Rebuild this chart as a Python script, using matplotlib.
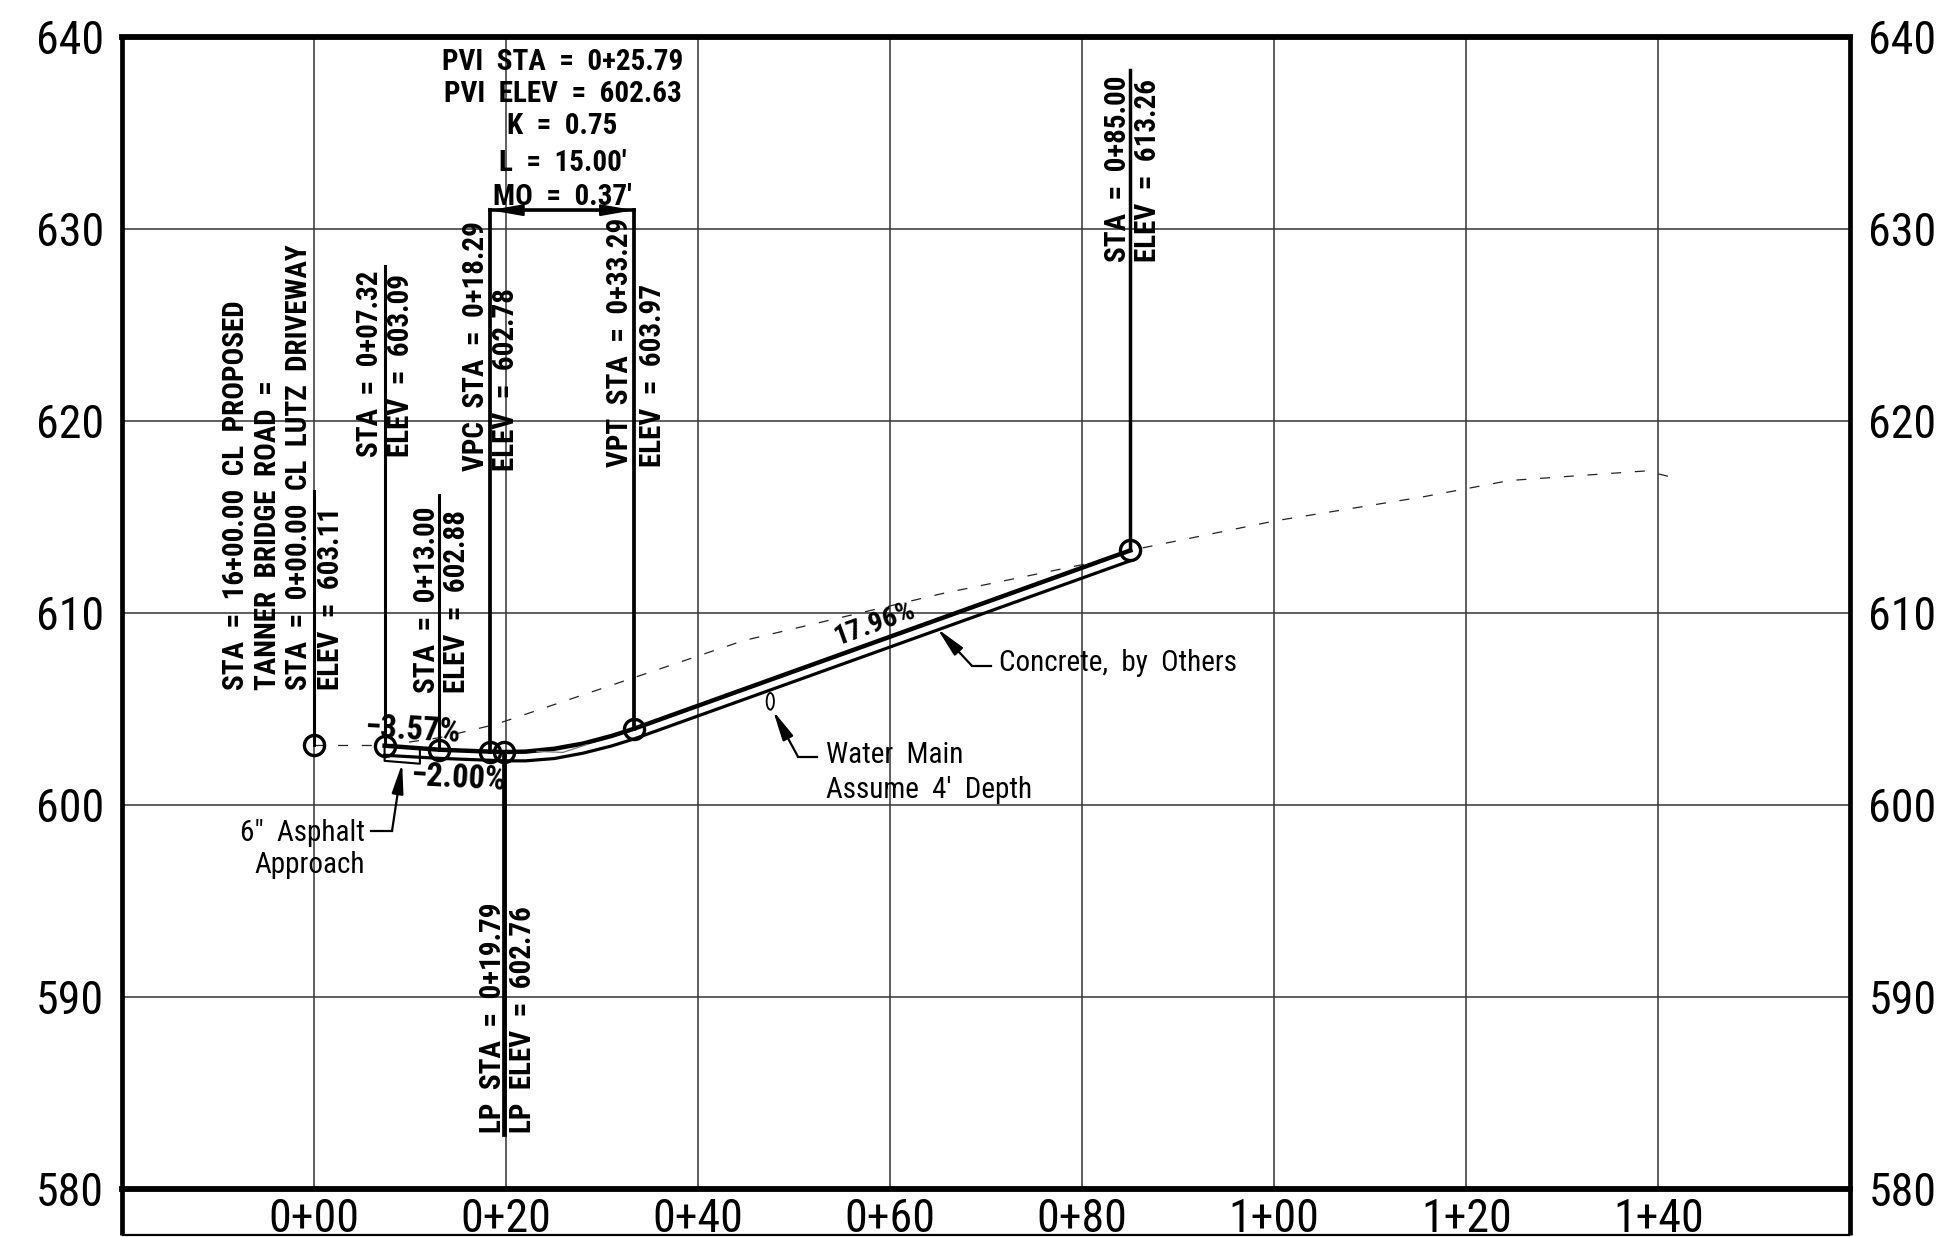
"""
Driveway profile sheet: station vs elevation with design grade and existing ground
"""

import matplotlib
matplotlib.use("Agg")
import matplotlib.pyplot as plt
from matplotlib.patches import Ellipse

plt.rcParams['font.family'] = ['Roboto Condensed', 'Liberation Sans', 'DejaVu Sans']

# Axes ticks
x_ticks = [0, 20, 40, 60, 80, 100, 120, 140]
x_tick_labels = ['0+00', '0+20', '0+40', '0+60', '0+80', '1+00', '1+20', '1+40']
y_ticks = [580, 590, 600, 610, 620, 630, 640]

# Profile points (station, elevation)
pt_sta = [0, 7.32, 13.00, 18.29, 19.79, 33.29, 85.00]
pt_elev = [603.11, 603.09, 602.88, 602.78, 602.76, 603.97, 613.26]

# Top of concrete / bottom of concrete
top_sta = [7.32, 13.00, 18.29, 19.79, 22, 25, 28, 31, 33.29, 85.00]
top_elev = [603.09, 602.88, 602.78, 602.76, 602.78, 602.93, 603.2, 603.6, 603.97, 613.26]
bot_sta = [7.32, 13.00, 18.29, 19.79, 22, 25, 28, 31, 33.29, 85.00]
bot_elev = [602.59, 602.43, 602.33, 602.3, 602.3, 602.42, 602.7, 603.08, 603.44, 612.72]

# Existing ground
eg_sta = [0, 7.32, 13, 18.9, 33.1, 44.7, 54.3, 65.3, 80.8, 85, 100.1, 115.5, 124.5, 138.7, 141.2]
eg_elev = [603.1, 603.1, 603.5, 604.2, 606.6, 608.56, 609.7, 611.0, 612.6, 613.26, 614.8, 616.05, 616.9, 617.4, 617.1]

# Asphalt outline and the small sliver under the curve
asphalt_sta = [7.32, 7.32, 11.0, 11.0]
asphalt_elev = [603.09, 602.3, 602.15, 602.85]
sliver_sta = [23.2, 25.9, 28.4]
sliver_elev = [602.79, 602.74, 603.15]

# Leaders running up/down from the points: (station, from, to)
leaders = [
    (0, 603.11, 616.35),
    (7.32, 603.09, 628.08),
    (13.00, 602.88, 616.16),
    (18.29, 602.78, 630.98),
    (33.29, 603.97, 630.98),
    (85.00, 613.26, 638.26),
    (19.79, 602.76, 582.85),
]

# Rotated station notes: (x, bottom y, text)
vertical_notes = [
    (-8.16, 606.0, 'STA  =  16+00.00  CL  PROPOSED'),
    (-4.8, 606.0, 'TANNER  BRIDGE  ROAD  ='),
    (-1.6, 606.0, 'STA  =  0+00.00  CL  LUTZ  DRIVEWAY'),
    (1.7, 606.0, 'ELEV  =  603.11'),
    (5.8, 618.1, 'STA  =  0+07.32'),
    (9.0, 618.1, 'ELEV  =  603.09'),
    (11.7, 605.85, 'STA  =  0+13.00'),
    (14.9, 605.85, 'ELEV  =  602.88'),
    (16.8, 617.4, 'VPC  STA  =  0+18.29'),
    (20.0, 617.4, 'ELEV  =  602.78'),
    (31.8, 617.6, 'VPT  STA  =  0+33.29'),
    (35.3, 617.6, 'ELEV  =  603.97'),
    (83.7, 628.27, 'STA  =  0+85.00'),
    (86.8, 628.27, 'ELEV  =  613.26'),
    (18.6, 582.9, 'LP  STA  =  0+19.79'),
    (21.7, 582.9, 'LP  ELEV  =  602.76'),
]

# Vertical curve data block
pvi_lines = ['PVI  STA  =  0+25.79', 'PVI  ELEV  =  602.63', 'K  =  0.75', "L  =  15.00'", "MO  =  0.37'"]
pvi_y = [638.7, 637.04, 635.36, 633.45, 631.65]

# Grade labels: (x, y, text, angle)
grades = [
    (10.3, 603.88, '\u22123.57%', -3),
    (15.0, 601.4, '\u22122.00%', -3),
    (58.4, 609.45, '17.96%', 19.8),
]

# Callout leaders: (knee start, knee, arrow tip)
asphalt_leader = [(5.9, 598.66), (8.1, 598.66), (9.15, 602.16)]
concrete_leader = [(70.5, 607.25), (68.5, 607.25), (64.9, 609.18)]
water_leader = [(52.4, 602.5), (50.4, 602.5), (47.8, 604.9)]


def draw_leader(ax, pts):
    ax.plot([pts[0][0], pts[1][0]], [pts[0][1], pts[1][1]], color='black', lw=1.6)
    ax.annotate('', xy=pts[2], xytext=pts[1],
                arrowprops=dict(arrowstyle='-|>,head_length=1.8,head_width=0.35', color='black',
                                lw=1.6, shrinkA=0, shrinkB=0))


fig = plt.figure(figsize=(19.4, 12.37), dpi=100)
ax = fig.add_axes([122.3 / 1940, 48 / 1237, 1728 / 1940, 1152 / 1237])
ax.set_xlim(-20, 160)
ax.set_ylim(580, 640)

ax.set_xticks(x_ticks)
ax.set_xticklabels(x_tick_labels)
ax.set_yticks(y_ticks)
ax.tick_params(axis='both', length=0, labelsize=33)
ax.tick_params(axis='y', pad=13)
ax.tick_params(axis='x', pad=5.5)
ax.grid(True, color='#333333', lw=1.1)
ax.set_axisbelow(True)

# Right-hand elevation labels
ax_right = ax.twinx()
ax_right.set_ylim(580, 640)
ax_right.set_yticks(y_ticks)
ax_right.tick_params(axis='y', length=0, labelsize=33, pad=13)
ax_right.spines[:].set_visible(False)

for side in ax.spines.values():
    side.set_linewidth(3.4)
ax.spines['top'].set_linewidth(4.2)
ax.spines['bottom'].set_linewidth(4.2)

# Frame carries on below the 580 line, around the station labels
frame_low = 577.6
ax.vlines([-20, 160], frame_low, 580, color='black', lw=3.4, clip_on=False)
ax.hlines(frame_low, -20, 160, color='black', lw=1.6, clip_on=False)

# Existing ground
ax.plot(eg_sta, eg_elev, color='#222222', lw=0.9, dashes=(8, 11))

# Concrete and asphalt
ax.plot(top_sta, top_elev, color='black', lw=3.2)
ax.plot(bot_sta, bot_elev, color='black', lw=2.3)
ax.plot(asphalt_sta, asphalt_elev, color='black', lw=1.5)
ax.plot(sliver_sta, sliver_elev, color='#777777', lw=0.9)

# Leaders, the low point one is the heaviest
leader_widths = [2.2, 2.2, 2.2, 2.7, 2.7, 2.5, 3.4]
for (sta, start, end), width in zip(leaders, leader_widths):
    ax.plot([sta, sta], [start, end], color='black', lw=width)

# VPC to VPT bracket
ax.plot([leaders[3][0], leaders[4][0]], [leaders[3][2], leaders[4][2]], color='black', lw=2.6)
mid_sta = (leaders[3][0] + leaders[4][0]) / 2
for idx in (3, 4):
    ax.annotate('', xy=(leaders[idx][0], leaders[idx][2]), xytext=(mid_sta, leaders[idx][2]),
                arrowprops=dict(arrowstyle='-|>,head_length=2.0,head_width=0.35', color='black',
                                lw=1.5, shrinkA=0, shrinkB=0))

# Points
ax.plot(pt_sta, pt_elev, linestyle='none', marker='o', markersize=14.5, markerfacecolor='none',
        markeredgecolor='black', markeredgewidth=2.4)

for x, y, label in vertical_notes:
    ax.text(x, y, label, rotation=90, rotation_mode='anchor', ha='left', va='center',
            fontsize=21, fontweight='bold', color='black')

for y, label in zip(pvi_y, pvi_lines):
    ax.text(25.85, y, label, ha='center', va='center', fontsize=21, fontweight='bold', color='black')

grade_sizes = [23.5, 23.5, 20.5]
for (x, y, label, angle), size in zip(grades, grade_sizes):
    ax.text(x, y, label, rotation=angle, rotation_mode='anchor', ha='center', va='center',
            fontsize=size, fontweight='bold', color='black')

# Callouts
draw_leader(ax, asphalt_leader)
draw_leader(ax, concrete_leader)
draw_leader(ax, water_leader)
ax.add_patch(Ellipse((47.5, 605.4), 0.76, 0.87, fill=False, edgecolor='black', lw=1.3))

ax.text(5.3, 598.55, '6"  Asphalt', ha='right', va='center', fontsize=21, color='black')
ax.text(5.3, 596.85, 'Approach', ha='right', va='center', fontsize=21, color='black')
ax.text(71.3, 607.4, 'Concrete,  by  Others', ha='left', va='center', fontsize=21, color='black')
ax.text(53.3, 602.6, 'Water  Main', ha='left', va='center', fontsize=21, color='black')
ax.text(53.3, 600.76, "Assume  4'  Depth", ha='left', va='center', fontsize=21, color='black')

fig.savefig('out.png', dpi=100)
